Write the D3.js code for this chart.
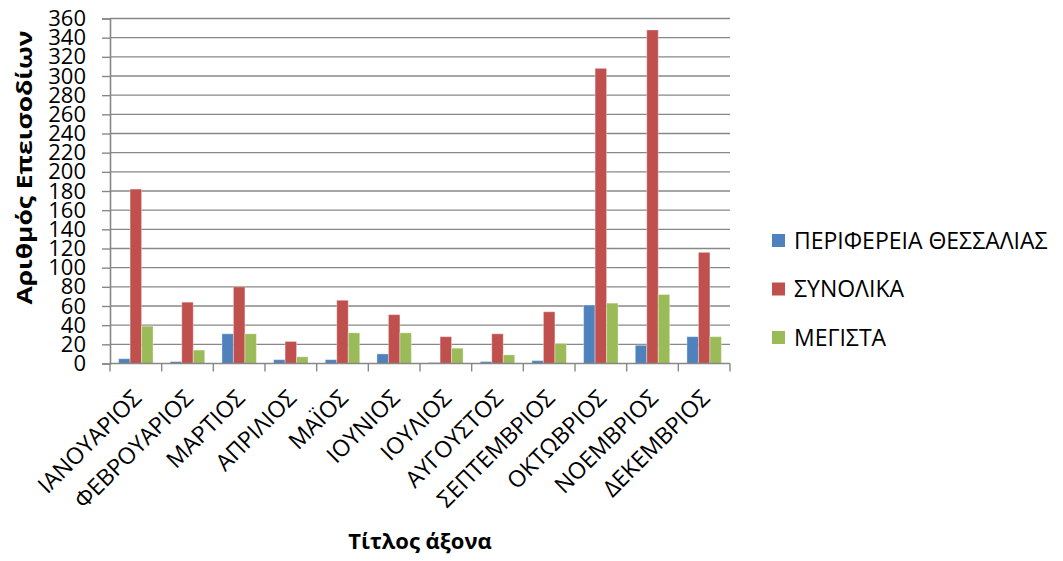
<!DOCTYPE html>
<html>
<head>
<meta charset="utf-8">
<script src="https://cdn.jsdelivr.net/npm/d3@7/dist/d3.min.js"></script>
<style>
  html, body { margin: 0; padding: 0; background: #fff; }
  svg { display: block; font-family: "Open Sans", "Noto Sans", sans-serif; }
</style>
</head>
<body>
<svg id="chart" width="1063" height="561"></svg>
<script>
// Monthly episode counts
const months = ["ΙΑΝΟΥΑΡΙΟΣ", "ΦΕΒΡΟΥΑΡΙΟΣ", "ΜΑΡΤΙΟΣ", "ΑΠΡΙΛΙΟΣ", "ΜΑΪΟΣ", "ΙΟΥΝΙΟΣ",
                "ΙΟΥΛΙΟΣ", "ΑΥΓΟΥΣΤΟΣ", "ΣΕΠΤΕΜΒΡΙΟΣ", "ΟΚΤΩΒΡΙΟΣ", "ΝΟΕΜΒΡΙΟΣ", "ΔΕΚΕΜΒΡΙΟΣ"];
const seriesNames = ["ΠΕΡΙΦΕΡΕΙΑ ΘΕΣΣΑΛΙΑΣ", "ΣΥΝΟΛΙΚΑ", "ΜΕΓΙΣΤΑ"];
const thessaly = [5, 2, 31, 4, 4, 10, 1, 2, 3, 61, 19, 28];
const totals   = [182, 64, 80, 23, 66, 51, 28, 31, 54, 308, 348, 116];
const maxima   = [39, 14, 31, 7, 32, 32, 16, 9, 21, 63, 72, 28];
const yTicks = d3.range(0, 361, 20);
const colors = ["#4F81BD", "#C0504D", "#9BBB59"];
const yTitle = "Αριθμός Επεισοδίων";
const xTitle = "Τίτλος άξονα";

const series = [thessaly, totals, maxima];
const svg = d3.select("#chart");
const plot = { left: 110, right: 730, top: 18.5, bottom: 363.5 };

const x = d3.scaleBand().domain(months).range([plot.left, plot.right]).paddingInner(0).paddingOuter(0);
// three bars with a 150% gap share each category slot
const inner = d3.scaleBand().domain(d3.range(3)).range([0, x.bandwidth()])
  .paddingInner(0).paddingOuter(0.75);
const y = d3.scaleLinear().domain([0, 360]).range([plot.bottom, plot.top]);

const gridColor = "#878787";

// horizontal gridlines
svg.append("g").selectAll("line").data(yTicks.filter(d => d > 0)).join("line")
  .attr("x1", plot.left).attr("x2", plot.right)
  .attr("y1", d => y(d)).attr("y2", d => y(d))
  .attr("stroke", gridColor).attr("stroke-width", 1.4);

// bars
const groups = svg.append("g").selectAll("g").data(months).join("g")
  .attr("transform", d => `translate(${x(d)},0)`);
groups.selectAll("rect").data((m, i) => series.map((s, k) => ({ k, v: s[i] }))).join("rect")
  .attr("x", d => inner(d.k))
  .attr("width", inner.bandwidth())
  .attr("y", d => y(d.v))
  .attr("height", d => y(0) - y(d.v))
  .attr("fill", d => colors[d.k])
  .attr("stroke", "rgba(255,255,255,0.35)")
  .attr("stroke-width", 1);

// y axis
const yAxis = d3.axisLeft(y).tickValues(yTicks).tickSize(8).tickPadding(16);
const gy = svg.append("g").attr("transform", `translate(${plot.left},0)`).call(yAxis);
gy.select(".domain").attr("stroke", gridColor).attr("stroke-width", 1.6);
gy.selectAll(".tick line").attr("stroke", gridColor).attr("stroke-width", 1.4);
gy.selectAll(".tick text").attr("font-size", 22).attr("fill", "#000")
  .attr("font-family", "'Open Sans', sans-serif");

// x axis with ticks on category boundaries
svg.append("line")
  .attr("x1", plot.left).attr("x2", plot.right)
  .attr("y1", plot.bottom).attr("y2", plot.bottom)
  .attr("stroke", gridColor).attr("stroke-width", 1.6);
const boundaries = months.map(m => x(m)).concat([plot.right]);
svg.append("g").selectAll("line").data(boundaries).join("line")
  .attr("x1", d => d).attr("x2", d => d)
  .attr("y1", plot.bottom).attr("y2", plot.bottom + 8)
  .attr("stroke", gridColor).attr("stroke-width", 1.4);

// rotated category labels
svg.append("g").selectAll("text").data(months).join("text")
  .attr("transform", d => `translate(${x(d) + x.bandwidth() / 2 + 7},${plot.bottom + 36}) rotate(-45)`)
  .attr("text-anchor", "end")
  .attr("font-size", 23)
  .attr("fill", "#000")
  .text(d => d);

// axis titles
svg.append("text")
  .attr("transform", `translate(32,167.5) rotate(-90) scale(1.2,1)`)
  .attr("text-anchor", "middle")
  .attr("font-size", 22).attr("font-weight", "bold").attr("fill", "#000")
  .text(yTitle);

svg.append("text")
  .attr("x", 420).attr("y", 549)
  .attr("text-anchor", "middle")
  .attr("font-size", 22).attr("font-weight", "bold").attr("fill", "#000")
  .text(xTitle);

// legend
const legend = svg.append("g").selectAll("g").data(seriesNames).join("g")
  .attr("transform", (d, i) => `translate(772,${240.5 + i * 48.5})`);
legend.append("rect")
  .attr("x", 0).attr("y", -6.5).attr("width", 13).attr("height", 13)
  .attr("fill", (d, i) => colors[i]);
legend.append("text")
  .attr("x", 22).attr("y", 0).attr("dy", "0.35em")
  .attr("font-size", 23).attr("fill", "#000")
  .text(d => d);
</script>
</body>
</html>
